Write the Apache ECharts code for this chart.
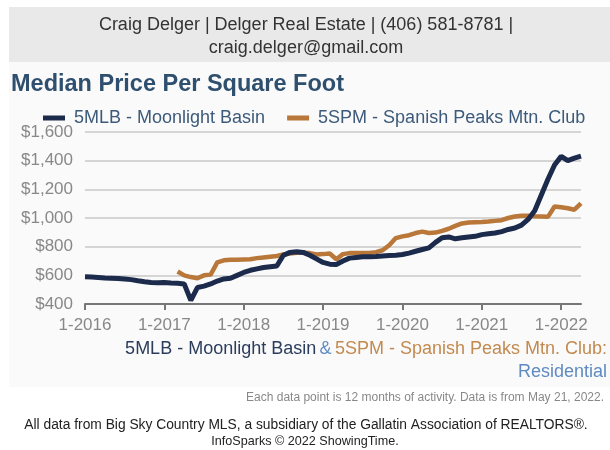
<!DOCTYPE html>
<html>
<head>
<meta charset="utf-8">
<script src="https://cdn.jsdelivr.net/npm/echarts@6/dist/echarts.min.js"></script>
<style>
  html, body { margin: 0; padding: 0; background: #fff; }
  #chart { width: 610px; height: 450px; }
</style>
</head>
<body>
<div id="chart"></div>
<script>
// monthly points, 1-2016 .. 4-2022
var months = [];
for (var y = 2016; y <= 2022; y++) {
  for (var m = 1; m <= 12; m++) {
    if (y === 2022 && m > 4) break;
    months.push(m + '-' + y);
  }
}

var moonlightBasin = [
  590, 588, 585, 582, 580, 578, 575, 570, 562, 555, 550, 548,
  550, 547, 545, 540, 425, 515, 525, 540, 560, 575, 580, 600,
  620, 635, 645, 655, 660, 665, 740, 760, 765, 760, 740, 715,
  690, 678, 676, 700, 720, 725, 730, 730, 732, 735, 738, 740,
  745, 755, 768, 780, 792, 830, 862, 868, 855, 862, 868, 872,
  884, 890, 895, 905, 920, 930, 950, 990, 1050, 1160, 1270, 1370,
  1430, 1400, 1418, 1432
];

var spanishPeaks = [
  null, null, null, null, null, null, null, null, null, null, null, null,
  null, null, 627, 600, 588, 580, 600, 605, 690, 705, 708, 708,
  710, 712, 720, 725, 730, 735, 745, 752, 758, 758, 755, 745,
  748, 752, 712, 748, 755, 755, 755, 756, 762, 775, 810, 860,
  872, 880, 895, 905, 895, 898, 910, 925, 945, 962, 968, 970,
  972, 975, 980, 985, 1000, 1010, 1015, 1015, 1012, 1010, 1008, 1080,
  1075, 1068, 1058, 1102
];

var legendNames = ['5MLB - Moonlight Basin', '5SPM - Spanish Peaks Mtn. Club'];
var colors = ['#1c2b4b', '#b9773a'];

var font = '"Liberation Sans", Arial, sans-serif';
var chart = echarts.init(document.getElementById('chart'));

function isJanuary(idx, val) {
  return months[idx].indexOf('1-') === 0;
}

var option = {
  animation: false,
  color: colors,
  textStyle: { fontFamily: font },
  graphic: [
    { type: 'rect', shape: { x: 9, y: 7, width: 601, height: 55 }, style: { fill: '#e9e9e9' }, z: 0 },
    { type: 'rect', shape: { x: 9, y: 62, width: 601, height: 325 }, style: { fill: '#fafafa' }, z: 0 },
    { type: 'text', x: 306, y: 25, style: { text: 'Craig Delger | Delger Real Estate | (406) 581-8781 |', font: '18px ' + font, fill: '#333', align: 'center', verticalAlign: 'middle' } },
    { type: 'text', x: 306, y: 48, style: { text: 'craig.delger@gmail.com', font: '18px ' + font, fill: '#333', align: 'center', verticalAlign: 'middle' } },
    { type: 'text', x: 11, y: 85, style: { text: 'Median Price Per Square Foot', font: 'bold 23.5px ' + font, fill: '#2f4f6f', verticalAlign: 'middle' } },
    { type: 'text', x: 607, y: 349, style: {
        text: '{a|5MLB - Moonlight Basin} {b|&} {c|5SPM - Spanish Peaks Mtn. Club:}',
        align: 'right', verticalAlign: 'middle',
        rich: {
          a: { fontSize: 18, fontFamily: font, fill: '#2b3d5c' },
          b: { fontSize: 18, fontFamily: font, fill: '#5f8bc0' },
          c: { fontSize: 18, fontFamily: font, fill: '#c28a4f' }
        } } },
    { type: 'text', x: 607, y: 372, style: { text: 'Residential', font: '18px ' + font, fill: '#5f8bc0', align: 'right', verticalAlign: 'middle' } },
    { type: 'text', x: 604, y: 398, style: { text: 'Each data point is 12 months of activity. Data is from May 21, 2022.', font: '12px ' + font, fill: '#888', align: 'right', verticalAlign: 'middle' } },
    { type: 'text', x: 306, y: 425, style: { text: 'All data from Big Sky Country MLS, a subsidiary of the Gallatin Association of REALTORS®.', font: '13.8px ' + font, fill: '#222', align: 'center', verticalAlign: 'middle' } },
    { type: 'text', x: 305, y: 442, style: { text: 'InfoSparks © 2022 ShowingTime.', font: '12.6px ' + font, fill: '#222', align: 'center', verticalAlign: 'middle' } }
  ],
  legend: {
    top: 104,
    left: 38,
    itemWidth: 22,
    itemHeight: 5,
    itemGap: 22,
    icon: 'rect',
    textStyle: { fontSize: 18, color: '#3d5a7a', fontFamily: font, padding: [0, 0, 0, 4] },
    data: legendNames
  },
  grid: { left: 85, right: 29, top: 132, bottom: 146 },
  xAxis: {
    type: 'category',
    boundaryGap: false,
    data: months,
    axisLine: { lineStyle: { color: '#777', width: 2 } },
    axisTick: { interval: isJanuary, length: 6, lineStyle: { color: '#777', width: 2 } },
    axisLabel: { interval: isJanuary, color: '#888', fontSize: 17, margin: 13, fontFamily: font },
    splitLine: { show: false }
  },
  yAxis: {
    type: 'value',
    min: 400,
    max: 1600,
    interval: 200,
    axisLine: { show: false },
    axisTick: { show: false },
    axisLabel: {
      color: '#888', fontSize: 17, margin: 12, fontFamily: font,
      formatter: function (v) { return '$' + v.toLocaleString('en-US'); }
    },
    splitLine: { lineStyle: { color: '#c8c8c8', width: 1.5 } }
  },
  series: [
    {
      name: legendNames[1],
      type: 'line',
      data: spanishPeaks,
      showSymbol: false,
      connectNulls: false,
      lineStyle: { width: 4.5, color: colors[1] },
      itemStyle: { color: colors[1] },
      z: 2
    },
    {
      name: legendNames[0],
      type: 'line',
      data: moonlightBasin,
      showSymbol: false,
      lineStyle: { width: 5, color: colors[0] },
      itemStyle: { color: colors[0] },
      z: 3
    }
  ]
};

chart.setOption(option);
</script>
</body>
</html>
